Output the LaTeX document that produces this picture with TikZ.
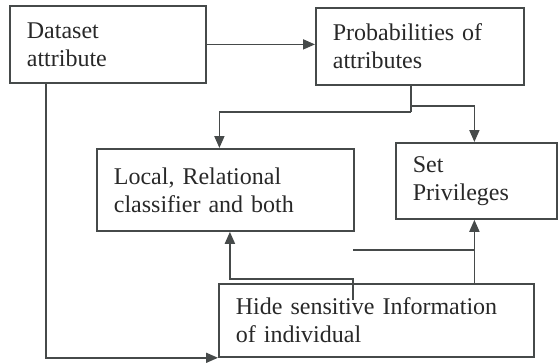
\documentclass[tikz,border=0pt]{standalone}
\usepackage{fontspec}
\setmainfont{Liberation Serif}
\usepackage{tikz}
\usetikzlibrary{positioning, calc, arrows.meta}
\definecolor{linec}{RGB}{70,74,74}
\definecolor{textc}{RGB}{40,40,40}

\begin{document}
\begin{tikzpicture}[x=1pt, y=-1pt, font=\fontsize{24}{28}\selectfont, >={Triangle[length=12pt, width=10pt]},
  blockbox/.style={draw=linec, line width=1.8pt, text=textc, align=left, inner xsep=17pt, inner ysep=0pt, anchor=north west},
  link/.style={draw=linec, line width=1.8pt}]

\useasboundingbox (0,0) rectangle (560,362);

%% ── blocks ───────────────────────────────────────────────────────
\node[blockbox, text width=162pt, minimum height=77pt] (ds)   at (9,5)     {Dataset\\attribute};
\node[blockbox, text width=174pt, minimum height=77pt] (prob) at (315,7)   {Probabilities of\\attributes};
\node[blockbox, text width=223pt, minimum height=82pt] (cls)  at (96,148)  {Local, Relational\\classifier and both};
\node[blockbox, text width=127pt, minimum height=76pt] (priv) at (395,142) {Set\\Privileges};
\node[blockbox, text width=281pt, minimum height=73pt] (hide) at (218,283) {Hide sensitive Information\\of individual};

%% ── junction points ──────────────────────────────────────────────
\coordinate (split)  at (411,112);
\coordinate (splitR) at (411,106);
\coordinate (hidein) at (353,300);
\coordinate (stub)   at (353,250);
\coordinate (privin) at ([xshift=-2pt]priv.south);

%% ── connectors ───────────────────────────────────────────────────
\draw[link, ->] (ds.east) -- (ds.east -| prob.west);
\draw[link, ->] ([xshift=37pt]ds.south west) |- (hide.south west);
\draw[link] (prob.south -| split) -- (split);
\draw[link, ->] (split) -| ([xshift=-6pt]cls.north);
\draw[link, ->] (splitR) -| ([xshift=-2pt]priv.north);
\draw[link, ->] (hidein) -- ++(0,-21) -| ([xshift=4.5pt]cls.south);
\draw[link, ->] (privin |- hide.north) -- (privin);
\draw[link] (stub) -- (stub -| privin);

\end{tikzpicture}
\end{document}
